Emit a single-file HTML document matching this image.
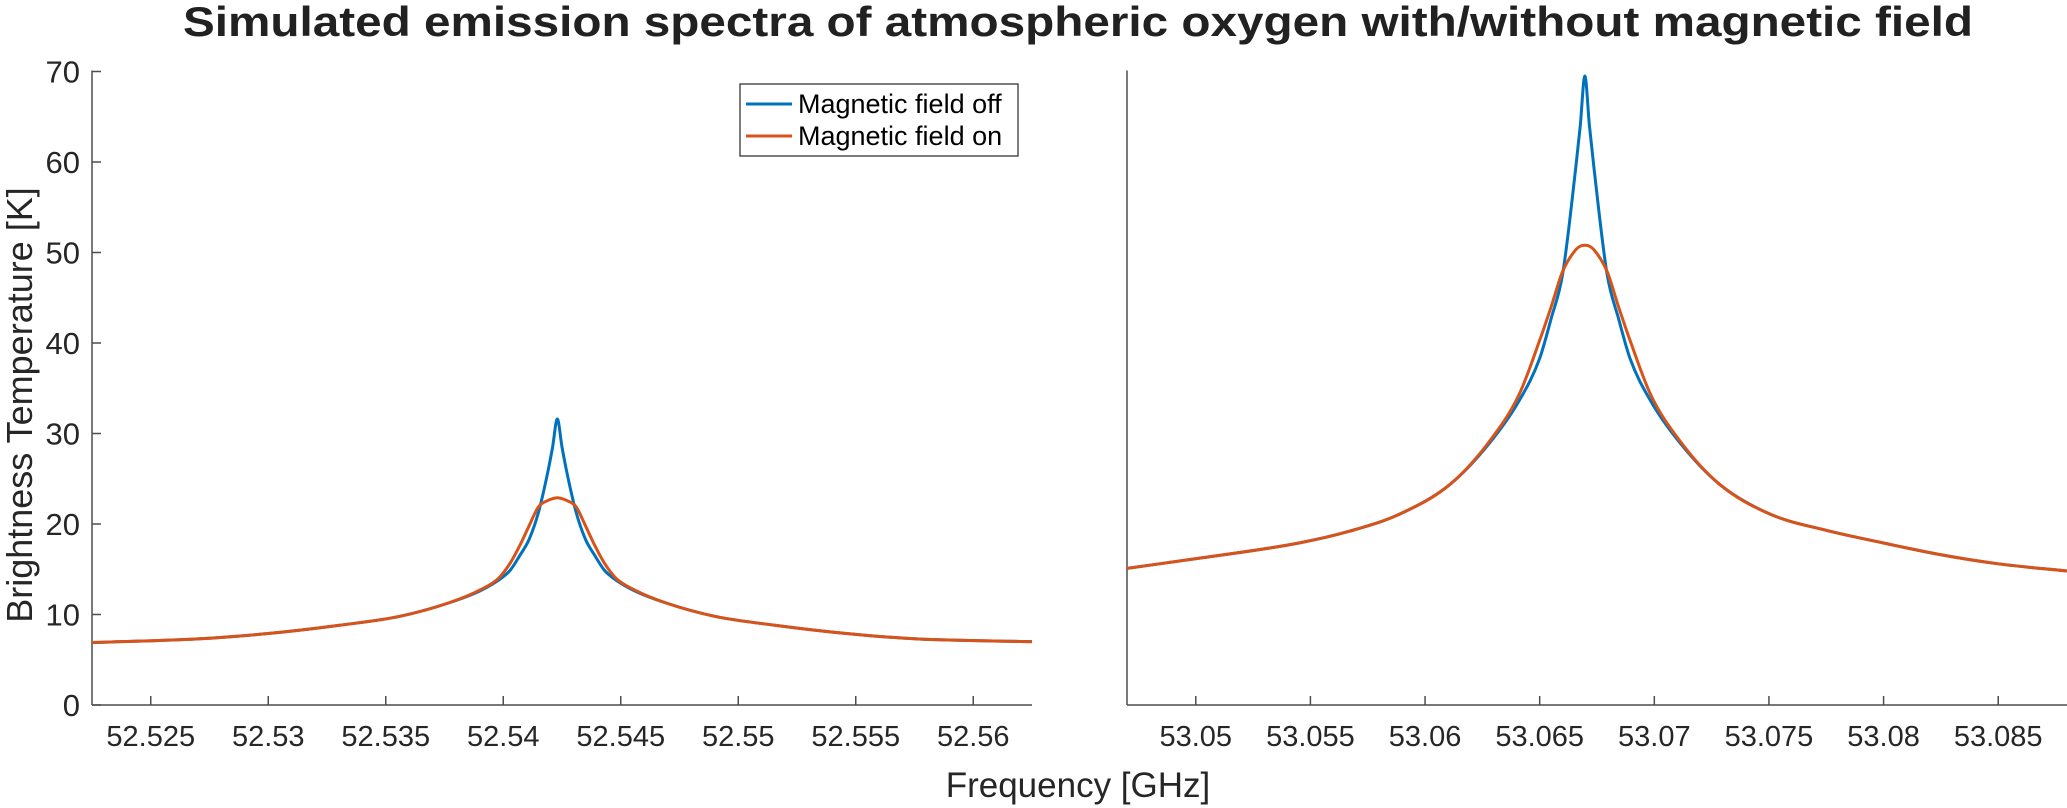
<!DOCTYPE html>
<html><head><meta charset="utf-8"><style>
html,body{margin:0;padding:0;background:#fff;}
svg{display:block;font-family:"Liberation Sans",Arial,sans-serif;}
</style></head><body>
<svg id="chart" width="2067" height="808" viewBox="0 0 2067 808" xmlns="http://www.w3.org/2000/svg">
<rect width="2067" height="808" fill="#fff"/>
<text x="1078" y="36" text-anchor="middle" font-size="42" font-weight="bold" fill="#212121" textLength="1790" lengthAdjust="spacingAndGlyphs">Simulated emission spectra of atmospheric oxygen with/without magnetic field</text>
<text transform="translate(32,405) rotate(-90)" text-anchor="middle" font-size="36" fill="#262626">Brightness Temperature [K]</text>
<text x="1078" y="797" text-anchor="middle" font-size="35" fill="#262626">Frequency [GHz]</text>
<g id="left"></g>
<g id="right"></g>
<g>
<rect x="740" y="84" width="278" height="72" fill="#fff" stroke="#262626" stroke-width="1.2"/>
<line x1="746" y1="104" x2="792" y2="104" stroke="#0072BD" stroke-width="3"/>
<text x="798" y="113" font-size="27" fill="#000">Magnetic field off</text>
<line x1="746" y1="136" x2="792" y2="136" stroke="#D95319" stroke-width="3"/>
<text x="798" y="145" font-size="27" fill="#000">Magnetic field on</text>
</g>
</svg>
<script>
const leftFreq = [52.5225,52.527,52.530,52.533,52.5356,52.5377,52.5390,52.5398,52.5403,52.5407,52.5411,52.5415,52.5419,52.5421,52.5423,52.5425,52.5427,52.5431,52.5435,52.5439,52.5443,52.5448,52.5456,52.5469,52.5490,52.5516,52.5546,52.5576,52.5625];
const leftOff = [6.9,7.3,7.9,8.8,9.8,11.3,12.6,13.8,14.9,16.5,18.3,21.3,25.8,28.5,31.6,28.5,25.8,21.3,18.3,16.5,14.9,13.8,12.6,11.3,9.8,8.8,7.9,7.3,7.0];
const leftOn  = [6.9,7.3,7.9,8.8,9.8,11.3,12.7,14.0,15.7,17.6,19.8,21.9,22.6,22.8,22.9,22.8,22.6,21.9,19.8,17.6,15.7,14.0,12.7,11.3,9.8,8.8,7.9,7.3,7.0];
const rightFreq = [53.047,53.0501,53.0545,53.0567,53.0589,53.0611,53.0628,53.0641,53.0650,53.0655,53.0660,53.06657,53.06677,53.06697,53.06717,53.06737,53.06794,53.06844,53.06894,53.06984,53.07114,53.07284,53.07504,53.0775,53.0800,53.0825,53.0850,53.0880];
const rightOff = [15.1,16.2,17.9,19.2,21.1,24.4,28.9,33.6,38.3,42.7,47.6,59.3,64.0,69.5,64.0,59.3,47.6,42.7,38.3,33.6,28.9,24.4,21.1,19.3,17.9,16.6,15.6,14.8];
const rightOn  = [15.1,16.2,17.9,19.2,21.1,24.4,29.1,34.3,40.3,44.0,47.9,50.3,50.7,50.8,50.7,50.3,47.9,44.0,40.3,34.3,29.1,24.4,21.1,19.3,17.9,16.6,15.6,14.8];
const yTicks = [0,10,20,30,40,50,60,70];
const leftTicks = ["52.525","52.53","52.535","52.54","52.545","52.55","52.555","52.56"];
const rightTicks = ["53.05","53.055","53.06","53.065","53.07","53.075","53.08","53.085"];

const NS="http://www.w3.org/2000/svg";
const Y0=705, YTOP=71.5, YMAX=70;
function yScale(v){return Y0-(v/YMAX)*(Y0-YTOP);}
function mk(tag,attrs,parent){const e=document.createElementNS(NS,tag);for(const k in attrs)e.setAttribute(k,attrs[k]);parent.appendChild(e);return e;}
function monoPath(px,py){
  const n=px.length,d=[],m=[];
  for(let i=0;i<n-1;i++)d.push((py[i+1]-py[i])/(px[i+1]-px[i]));
  m[0]=d[0];m[n-1]=d[n-2];
  for(let i=1;i<n-1;i++){m[i]=(d[i-1]*d[i]<=0)?0:(d[i-1]+d[i])/2;}
  for(let i=0;i<n-1;i++){if(d[i]===0){m[i]=m[i+1]=0;continue;}const a=m[i]/d[i],b=m[i+1]/d[i],s=a*a+b*b;if(s>9){const t=3/Math.sqrt(s);m[i]=t*a*d[i];m[i+1]=t*b*d[i];}}
  let p="M"+px[0].toFixed(2)+","+py[0].toFixed(2);
  for(let i=0;i<n-1;i++){const h=(px[i+1]-px[i])/3;
    p+=" C"+(px[i]+h).toFixed(2)+","+(py[i]+m[i]*h).toFixed(2)+" "+(px[i+1]-h).toFixed(2)+","+(py[i+1]-m[i+1]*h).toFixed(2)+" "+px[i+1].toFixed(2)+","+py[i+1].toFixed(2);}
  return p;
}
function panel(g,x0,x1,fmin,fmax,freq,off,on,ticks,showY,prefix){
  const xs=f=>x0+(f-fmin)/(fmax-fmin)*(x1-x0);
  const ax=mk('line',{x1:x0,y1:Y0,x2:x1,y2:Y0,stroke:'#4d4d4d','stroke-width':1.5},g);
  
  
  const ay=mk('line',{x1:x0,y1:YTOP-1,x2:x0,y2:Y0,stroke:'#4d4d4d','stroke-width':1.5},g);
  
  
  ticks.forEach(t=>{const x=xs(parseFloat(t));
    const tl=mk('line',{x1:x,y1:Y0,x2:x,y2:Y0-9,stroke:'#4d4d4d','stroke-width':1.5},g);
    
    
    const tx=mk('text',{x:x,y:746,'text-anchor':'middle','font-size':29,fill:'#262626'},g);
    
    
    tx.textContent=t;});
  if(showY){yTicks.forEach(v=>{const y=yScale(v);
    const tl=mk('line',{x1:x0,y1:y,x2:x0+9,y2:y,stroke:'#4d4d4d','stroke-width':1.5},g);
    
    
    const tx=mk('text',{x:80,y:y+11,'text-anchor':'end','font-size':31,fill:'#262626'},g);
    
    
    tx.textContent=v;});}
  const l1=mk('path',{d:monoPath(freq.map(xs),off.map(yScale)),fill:'none',stroke:'#0072BD','stroke-width':3,'stroke-linejoin':'round'},g);
  
  
  const l2=mk('path',{d:monoPath(freq.map(xs),on.map(yScale)),fill:'none',stroke:'#D95319','stroke-width':3,'stroke-linejoin':'round'},g);
  
  
}
panel(document.getElementById('left'),92,1032,52.5225,52.5625,leftFreq,leftOff,leftOn,leftTicks,true,'left');
panel(document.getElementById('right'),1127,2067,53.047,53.088,rightFreq,rightOff,rightOn,rightTicks,false,'right');
</script>
</body></html>
